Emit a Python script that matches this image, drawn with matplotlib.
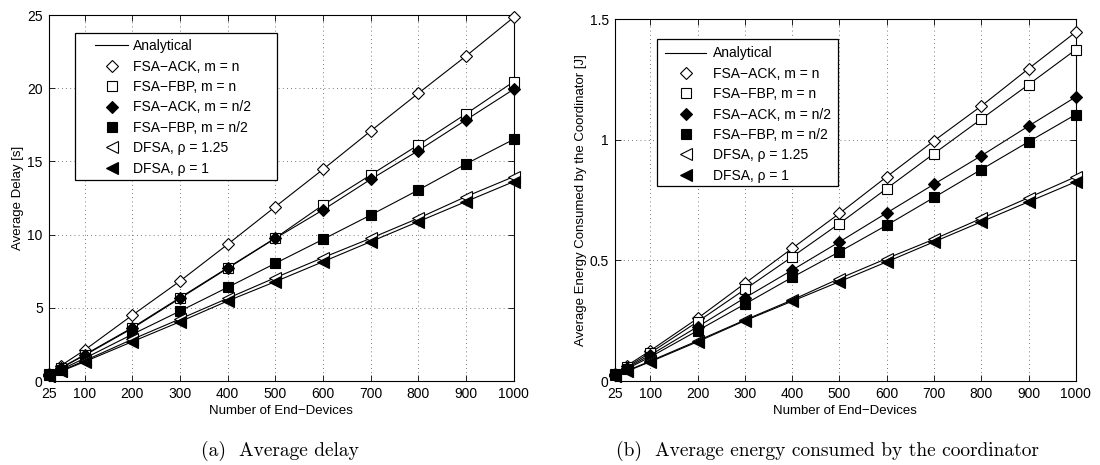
import matplotlib
matplotlib.use("Agg")
import matplotlib.pyplot as plt
from matplotlib.lines import Line2D
from matplotlib.patches import Rectangle

plt.rcParams['font.family'] = ['Liberation Sans', 'DejaVu Sans']

n = [25, 50, 100, 200, 300, 400, 500, 600, 700, 800, 900, 1000]

labels = [
    "FSA\u2212ACK, m = n",
    "FSA\u2212FBP, m = n",
    "FSA\u2212ACK, m = n/2",
    "FSA\u2212FBP, m = n/2",
    "DFSA, \u03c1 = 1.25",
    "DFSA, \u03c1 = 1",
]

# average delay [s]
delay_ack_n = [0.5, 1.05, 2.12, 4.5, 6.83, 9.34, 11.91, 14.46, 17.08, 19.66, 22.2, 24.85]
delay_fbp_n = [0.45, 0.9, 1.8, 3.65, 5.7, 7.74, 9.77, 12.03, 14.08, 16.13, 18.25, 20.45]
delay_ack_h = [0.44, 0.88, 1.76, 3.6, 5.65, 7.7, 9.75, 11.69, 13.78, 15.74, 17.84, 19.93]
delay_fbp_h = [0.4, 0.78, 1.55, 3.19, 4.78, 6.4, 8.04, 9.68, 11.34, 13.05, 14.83, 16.51]
delay_dfsa_125 = [0.35, 0.7, 1.39, 2.85, 4.24, 5.65, 7.06, 8.43, 9.75, 11.12, 12.6, 13.96]
delay_dfsa_1 = [0.33, 0.66, 1.32, 2.69, 4.05, 5.47, 6.79, 8.15, 9.52, 10.89, 12.26, 13.62]

# average energy consumed by the coordinator [J]
energy_ack_n = [0.03, 0.063, 0.126, 0.26, 0.405, 0.55, 0.695, 0.847, 0.996, 1.14, 1.295, 1.447]
energy_fbp_n = [0.028, 0.058, 0.117, 0.246, 0.38, 0.515, 0.653, 0.798, 0.943, 1.086, 1.229, 1.374]
energy_ack_h = [0.027, 0.054, 0.108, 0.225, 0.345, 0.46, 0.577, 0.697, 0.816, 0.934, 1.057, 1.178]
energy_fbp_h = [0.025, 0.05, 0.1, 0.209, 0.319, 0.43, 0.536, 0.646, 0.761, 0.877, 0.992, 1.105]
energy_dfsa_125 = [0.021, 0.042, 0.083, 0.167, 0.253, 0.336, 0.425, 0.508, 0.588, 0.674, 0.76, 0.847]
energy_dfsa_1 = [0.02, 0.04, 0.08, 0.163, 0.25, 0.331, 0.412, 0.494, 0.577, 0.66, 0.743, 0.826]

markers = [
    dict(marker='D', mfc='white', ms=6),
    dict(marker='s', mfc='white', ms=6.5),
    dict(marker='D', mfc='black', ms=6),
    dict(marker='s', mfc='black', ms=6.5),
    dict(marker='<', mfc='white', ms=8),
    dict(marker='<', mfc='black', ms=8),
]

fs = 9.5


def draw(ax, series, ylim, yticks, ylabel, leg_anchor, handlelen, textpad, box):
    for ys, mk in zip(series, markers):
        ax.plot(n, ys, color='black', lw=0.8, zorder=3)
        ax.plot(n, ys, ls='none', mec='black', mew=0.8, zorder=4, clip_on=False, **mk)
    ax.set_xlim(25, 1000)
    ax.set_ylim(*ylim)
    ax.set_xticks([25, 100, 200, 300, 400, 500, 600, 700, 800, 900, 1000])
    ax.set_yticks(yticks)
    ax.tick_params(direction='in', top=True, right=True, labelsize=10, length=4,
                   width=0.6, pad=4.5)
    ax.grid(True, ls=(0, (1, 4)), color='black', lw=0.6, alpha=0.7)
    for s in ax.spines.values():
        s.set_linewidth(0.8)
    ax.set_xlabel("Number of End\u2212Devices", fontsize=fs, labelpad=3)
    ax.set_ylabel(ylabel, fontsize=fs, labelpad=2)

    ax.add_patch(Rectangle(box[:2], box[2], box[3], transform=ax.transAxes,
                           facecolor='white', edgecolor='black', lw=0.9, zorder=5))
    handles = [Line2D([], [], color='black', lw=0.8)]
    for mk in markers:
        handles.append(Line2D([], [], ls='none', mec='black', mew=0.8, **mk))
    leg = ax.legend(handles, ["Analytical"] + labels, loc='upper left',
                    bbox_to_anchor=leg_anchor, fontsize=10, frameon=False,
                    handlelength=handlelen, labelspacing=0.46, borderpad=0,
                    borderaxespad=0, handletextpad=textpad)
    leg.set_zorder(6)


fig = plt.figure(figsize=(11, 4.65), dpi=100)
ax1 = fig.add_axes([0.0445, 0.1806, 0.4225, 0.787])
ax2 = fig.add_axes([0.559, 0.1806, 0.419, 0.778])

draw(ax1, [delay_ack_n, delay_fbp_n, delay_ack_h, delay_fbp_h, delay_dfsa_125, delay_dfsa_1],
     (0, 25), [0, 5, 10, 15, 20, 25], "Average Delay [s]",
     (0.099, 0.934), 2.4, 0.36, (0.056, 0.549, 0.434, 0.402))
draw(ax2, [energy_ack_n, energy_fbp_n, energy_ack_h, energy_fbp_h, energy_dfsa_125, energy_dfsa_1],
     (0, 1.5), [0, 0.5, 1, 1.5], "Average Energy Consumed by the Coordinator [J]",
     (0.108, 0.925), 3.0, 0.5, (0.091, 0.539, 0.393, 0.406))
ax2.set_yticklabels(["0", "0.5", "1", "1.5"])

fig.text(0.2545, 0.03, "(a)  Average delay", fontsize=14, family='cmr10',
         ha='center', va='center')
fig.text(0.752, 0.03, "(b)  Average energy consumed by the coordinator", fontsize=14,
         family='cmr10', ha='center', va='center')

fig.savefig("out.png", dpi=100)
